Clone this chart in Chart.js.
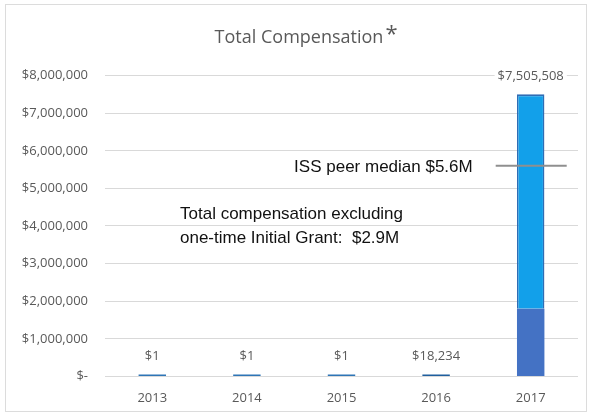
<!DOCTYPE html>
<html>
<head>
<meta charset="utf-8">
<script src="https://cdn.jsdelivr.net/npm/chart.js@4"></script>
<style>
  html, body { margin: 0; padding: 0; background: #fff; }
  #wrap { width: 590px; height: 416px; }
</style>
</head>
<body>
<div id="wrap"><canvas id="chart" width="590" height="416"></canvas></div>
<script>
const years = ["2013", "2014", "2015", "2016", "2017"];
const baseComp = [1, 1, 1, 18234, 1800000];
const initialGrant = [null, null, null, null, 5705508];
const totalLabels = ["$1", "$1", "$1", "$18,234", "$7,505,508"];
const yTickLabels = ["$-", "$1,000,000", "$2,000,000", "$3,000,000", "$4,000,000",
  "$5,000,000", "$6,000,000", "$7,000,000", "$8,000,000"];
const issMedian = 5600000;
const issLabel = "ISS peer median $5.6M";
const noteLines = ["Total compensation excluding", "one-time Initial Grant:  $2.9M"];

const grey = "#595959";
const titlePad = { top: 27, bottom: 27 };
const titleSize = 18;

// light frame round the whole chart
const frame = {
  id: "frame",
  beforeDraw(chart) {
    const c = chart.ctx;
    c.save();
    c.strokeStyle = "#dcdcdc";
    c.lineWidth = 1;
    c.strokeRect(5.5, 4.5, 581, 407);
    c.restore();
  }
};

// value labels over the bars
const barLabels = {
  id: "barLabels",
  afterDatasetsDraw(chart) {
    const c = chart.ctx;
    const m0 = chart.getDatasetMeta(0), m1 = chart.getDatasetMeta(1);
    c.save();
    c.font = "13px 'Open Sans'";
    c.textAlign = "center";
    c.textBaseline = "middle";
    totalLabels.forEach((t, i) => {
      const el = initialGrant[i] != null ? m1.data[i] : m0.data[i];
      const y = el.y - 18;
      const w = c.measureText(t).width;
      c.fillStyle = "#fff";
      c.fillRect(el.x - w / 2 - 3, y - 8, w + 6, 16);
      c.fillStyle = grey;
      c.fillText(t, el.x, y);
    });
    c.restore();
  }
};

// ISS median marker, note text and the title asterisk
const notes = {
  id: "notes",
  afterDraw(chart) {
    const c = chart.ctx;
    const xs = chart.scales.x, ys = chart.scales.y, a = chart.chartArea;
    const cx = xs.getPixelForValue(4);
    const yi = ys.getPixelForValue(issMedian);
    c.save();
    c.strokeStyle = "#8f8f8f";
    c.lineWidth = 2;
    c.beginPath();
    c.moveTo(cx - 35, yi);
    c.lineTo(cx + 36, yi);
    c.stroke();

    c.fillStyle = "#111";
    c.font = "17px 'Liberation Sans'";
    c.textBaseline = "middle";
    c.textAlign = "right";
    c.fillText(issLabel, cx - 58, yi + 1);
    c.textAlign = "left";
    c.fillText(noteLines[0], a.left + 75, ys.getPixelForValue(4300000));
    c.fillText(noteLines[1], a.left + 75, ys.getPixelForValue(3660000));

    const tb = chart.titleBlock;
    c.font = titleSize + "px 'Open Sans'";
    const tw = c.measureText(chart.options.plugins.title.text).width;
    const ty = tb.top + titlePad.top + titleSize * 0.6;
    c.fillStyle = grey;
    c.font = "22px 'Open Sans'";
    c.textAlign = "left";
    c.fillText("*", (tb.left + tb.right) / 2 + tw / 2 + 2, ty - 3);
    c.restore();
  }
};

new Chart(document.getElementById("chart"), {
  type: "bar",
  data: {
    labels: years,
    datasets: [
      {
        label: "Excluding Initial Grant",
        data: baseComp,
        backgroundColor: ["#2e75b6", "#2e75b6", "#2e75b6", "#1f5f9e", "#4472c4"],
        minBarLength: 2,
        barPercentage: 0.29,
        categoryPercentage: 1
      },
      {
        label: "Initial Grant",
        data: initialGrant,
        backgroundColor: "#12a0ea",
        borderColor: "#2f6db5",
        borderWidth: { top: 2, left: 1.5, right: 1.5, bottom: 0 },
        borderSkipped: false,
        barPercentage: 0.29,
        categoryPercentage: 1
      }
    ]
  },
  options: {
    responsive: false,
    animation: false,
    devicePixelRatio: 1,
    layout: { padding: { left: 20, right: 12, top: 0, bottom: -4 } },
    plugins: {
      legend: { display: false },
      tooltip: { enabled: false },
      title: {
        display: true,
        text: "Total Compensation",
        color: grey,
        font: { family: "'Open Sans'", size: titleSize, weight: "normal" },
        padding: titlePad
      }
    },
    scales: {
      x: {
        stacked: true,
        grid: { display: false, drawTicks: false },
        border: { display: false },
        ticks: { color: grey, font: { family: "'Open Sans'", size: 13 }, padding: 14 }
      },
      y: {
        stacked: true,
        min: 0,
        max: 8000000,
        afterFit(s) { s.width = 85; },
        grid: { color: "#d9d9d9", drawTicks: false },
        border: { display: false },
        ticks: {
          stepSize: 1000000,
          color: grey,
          font: { family: "'Open Sans'", size: 13 },
          padding: 17,
          callback: (v, i) => yTickLabels[i]
        }
      }
    }
  },
  plugins: [frame, barLabels, notes]
});
</script>
</body>
</html>
